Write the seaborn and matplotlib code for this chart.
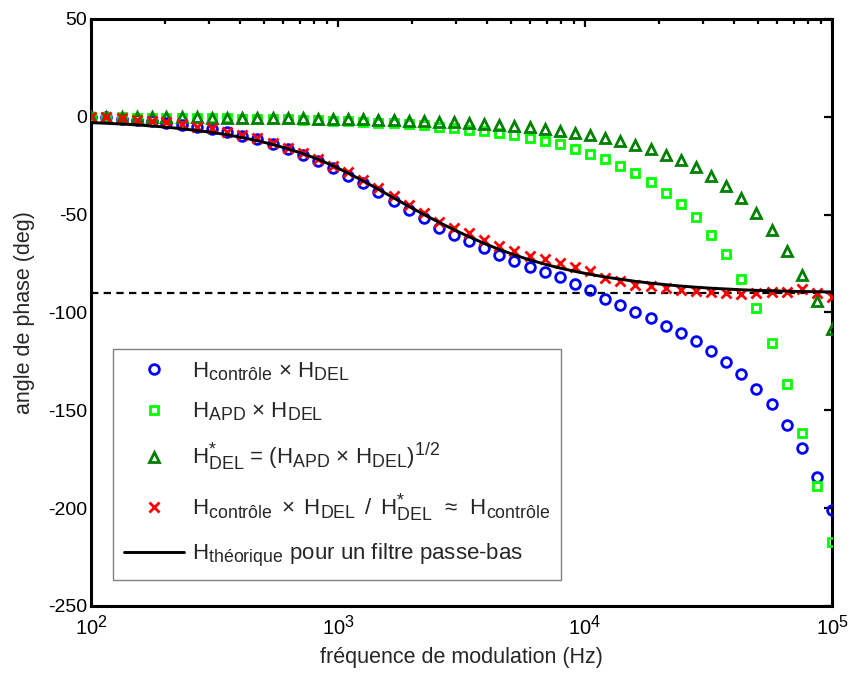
import matplotlib
matplotlib.use("Agg")
import matplotlib.pyplot as plt
import matplotlib._mathtext as mathtext_core
import pandas as pd
import seaborn as sns
from matplotlib.lines import Line2D
from matplotlib.ticker import LogLocator, NullFormatter, FixedLocator, LogFormatterSciNotation

# Larger sub/superscripts, closer to the usual MATLAB text look
mathtext_core.SHRINK_FACTOR = 0.8

# Modulation frequencies (Hz)
freq = [100, 115, 133, 153, 176, 202, 233, 268, 309, 356, 409, 471, 543, 625, 720,
        829, 954, 1099, 1265, 1456, 1677, 1931, 2223, 2560, 2947, 3393, 3907, 4498,
        5180, 5964, 6866, 7906, 9103, 10481, 12068, 13895, 15999, 18421, 21210,
        24421, 28118, 32375, 37276, 42919, 49417, 56899, 65513, 75431, 86851, 100000]

# Phase angles (deg)
ctrl_del = [-0.1, -0.1, -1.0, -1.8, -2.2, -3.1, -4.0, -5.3, -6.3, -8.0, -9.8, -11.5,
            -14.1, -16.5, -19.3, -22.7, -26.2, -30.0, -34.0, -38.4, -43.0, -47.5,
            -51.6, -56.7, -60.2, -63.5, -67.2, -70.8, -73.9, -76.7, -79.5, -82.0,
            -85.5, -88.5, -93.2, -96.0, -100.0, -102.6, -106.8, -110.3, -114.8,
            -119.5, -125.1, -131.7, -139.0, -147.0, -157.6, -169.2, -184.2, -200.9]

apd_del = [-0.2, -0.3, -0.3, -0.4, -0.4, -0.5, -0.6, -0.6, -0.7, -0.8, -0.9, -1.0,
           -1.2, -1.3, -1.5, -1.7, -2.0, -2.3, -2.6, -3.0, -3.4, -3.8, -4.4, -5.0,
           -5.8, -6.5, -7.3, -8.2, -9.4, -10.8, -12.3, -13.9, -16.3, -19.0, -21.7,
           -25.1, -28.9, -33.2, -38.8, -44.6, -51.4, -60.4, -70.3, -83.0, -97.9,
           -115.4, -136.7, -161.7, -188.5, -217.1]

del_star = [-0.1, -0.1, -0.2, -0.2, -0.2, -0.3, -0.3, -0.3, -0.4, -0.4, -0.5, -0.5,
            -0.6, -0.7, -0.8, -0.9, -1.0, -1.2, -1.3, -1.5, -1.7, -1.9, -2.2, -2.5,
            -2.9, -3.3, -3.7, -4.1, -4.7, -5.4, -6.2, -7.0, -8.2, -9.5, -10.9,
            -12.6, -14.5, -16.6, -19.4, -22.3, -25.7, -30.2, -35.2, -41.5, -49.0,
            -57.7, -68.4, -80.9, -94.3, -108.6]

ctrl_est = [0.0, 0.0, -0.8, -1.6, -2.0, -2.8, -3.7, -5.0, -5.9, -7.6, -9.3, -11.0,
            -13.5, -15.8, -18.5, -21.8, -25.2, -28.4, -32.3, -36.5, -40.5, -45.1,
            -49.0, -53.6, -57.0, -59.5, -63.0, -66.0, -68.4, -71.1, -72.8, -74.5,
            -76.9, -78.6, -82.5, -83.7, -85.9, -86.5, -87.6, -88.5, -88.9, -89.4,
            -90.2, -90.5, -90.2, -89.4, -89.4, -88.1, -90.2, -92.2]

theory = [-3.0, -3.3, -3.7, -4.1, -4.7, -5.3, -6.1, -7.0, -8.0, -9.2, -10.6, -12.2,
          -14.1, -16.3, -18.8, -21.7, -25.0, -28.8, -32.8, -37.0, -41.4, -45.7,
          -49.9, -53.9, -57.7, -61.3, -64.7, -67.8, -70.6, -73.1, -75.3, -77.3,
          -79.0, -80.5, -81.9, -83.0, -84.1, -85.0, -85.8, -86.5, -87.1, -87.6,
          -88.0, -88.4, -88.7, -88.9, -89.1, -89.3, -89.4, -89.5]

asymptote = -90

labels = [
    r"$\mathrm{H_{contrôle}}$ $\times$ $\mathrm{H_{DEL}}$",
    r"$\mathrm{H_{APD}}$ $\times$ $\mathrm{H_{DEL}}$",
    r"$\mathrm{H^{*}_{DEL}}$ = ($\mathrm{H_{APD}}$ $\times$ $\mathrm{H_{DEL}}$)$^{\mathrm{1/2}}$",
    r"$\mathrm{H_{contrôle}}\,$ $\times$ $\,\mathrm{H_{DEL}}\,$ / $\,\mathrm{H^{*}_{DEL}}\,$ $\approx$ $\,\mathrm{H_{contrôle}}$",
    r"$\mathrm{H_{théorique}}$ pour un filtre passe-bas",
]

df = pd.DataFrame({"freq": freq, "ctrl_del": ctrl_del, "apd_del": apd_del,
                   "del_star": del_star, "ctrl_est": ctrl_est, "theory": theory})

sns.set_theme(style="white")
plt.rcParams["font.family"] = ["Liberation Sans", "DejaVu Sans"]
plt.rcParams["mathtext.fontset"] = "custom"
plt.rcParams["mathtext.rm"] = "Liberation Sans"
plt.rcParams["mathtext.it"] = "Liberation Sans:italic"
plt.rcParams["mathtext.bf"] = "Liberation Sans:bold"
plt.rcParams["mathtext.default"] = "regular"
plt.rcParams["axes.unicode_minus"] = False

fig = plt.figure(figsize=(8.51, 6.73), dpi=100)
ax = fig.add_axes([0.107, 0.0996, 0.8707, 0.8722])

series = [
    ("ctrl_del", "o", "#0000ff", 7.0, "none"),
    ("apd_del", "s", "#00ff00", 6.0, "none"),
    ("del_star", "^", "#008000", 6.8, "none"),
    ("ctrl_est", "x", "#ff0000", 6.5, None),
]
handles = []
for col, mk, colr, ms, fc in series:
    sns.lineplot(data=df, x="freq", y=col, ax=ax, marker=mk, linestyle="",
                 markersize=ms, markeredgewidth=2.0, markeredgecolor=colr,
                 markerfacecolor=(fc if fc else colr), color=colr, zorder=3)
    handles.append(Line2D([], [], linestyle="", marker=mk, markersize=ms,
                          markeredgewidth=2.0, markeredgecolor=colr,
                          markerfacecolor=(fc if fc else colr)))

sns.lineplot(data=df, x="freq", y="theory", ax=ax, color="black", linewidth=2.1, zorder=4)
handles.append(Line2D([], [], color="black", linewidth=2.1))
ax.axhline(asymptote, color="black", linewidth=1.6, linestyle=(0, (3.3, 2.4)), zorder=2)

ax.set_xscale("log")
ax.set_xlim(100, 100000)
ax.set_ylim(-250, 50)
ax.yaxis.set_major_locator(FixedLocator([-250, -200, -150, -100, -50, 0, 50]))
ax.xaxis.set_major_locator(LogLocator(base=10, numticks=10))
ax.xaxis.set_major_formatter(LogFormatterSciNotation())
ax.xaxis.set_minor_locator(LogLocator(base=10, subs=range(2, 10), numticks=20))
ax.xaxis.set_minor_formatter(NullFormatter())

ax.tick_params(which="both", direction="in", top=True, right=True, colors="black",
               labelsize=14, width=1.6)
ax.tick_params(which="major", length=6, pad=3)
ax.tick_params(which="minor", length=3.5)
ax.tick_params(axis="x", which="major", pad=6, labelsize=14.5)
for s in ax.spines.values():
    s.set_linewidth(2.2)
    s.set_color("black")

ax.set_xlabel("fréquence de modulation (Hz)", fontsize=15.5, labelpad=6)
ax.set_ylabel("angle de phase (deg)", fontsize=15.5, labelpad=9)

leg = ax.legend(handles, labels, loc="lower left", bbox_to_anchor=(0.029, 0.044),
                fontsize=16, frameon=True, fancybox=False, edgecolor="#808080",
                framealpha=1, handlelength=2.7, handletextpad=0.36,
                labelspacing=0.8, borderpad=0.5, borderaxespad=0)
leg.get_frame().set_linewidth(1.0)

fig.savefig("out.png", dpi=100)
